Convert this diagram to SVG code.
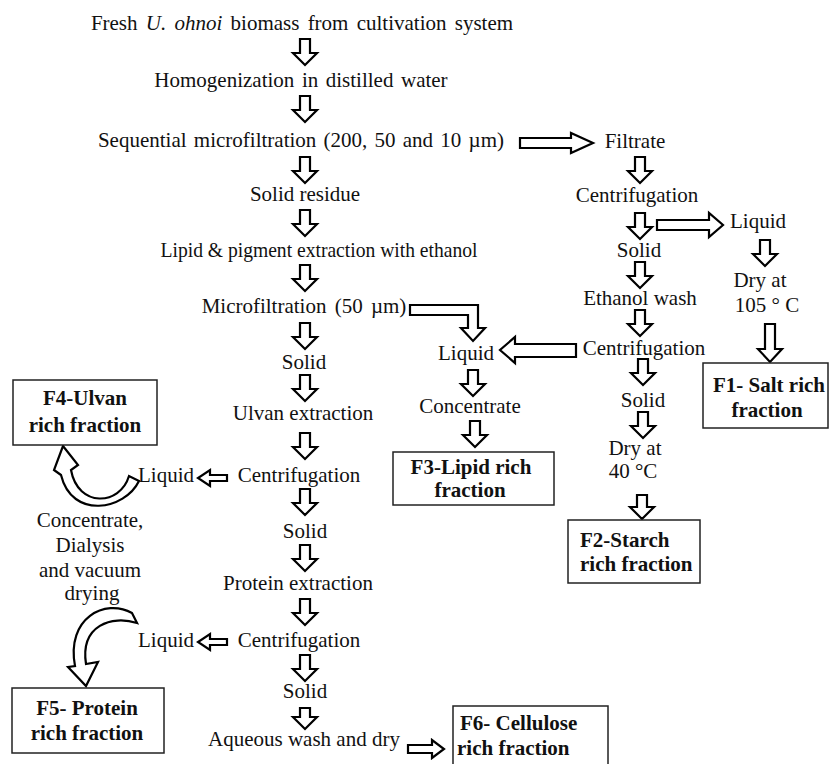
<svg xmlns="http://www.w3.org/2000/svg" width="830" height="764" viewBox="0 0 830 764">
<defs>
<style>
text{font-family:"Liberation Serif","Times New Roman",serif;font-size:21px;fill:#111;}
.m{text-anchor:middle;}
.b{font-weight:bold;}
.box{fill:#fff;stroke:#222;stroke-width:1.5;}
.ar{fill:#fff;stroke:#000;stroke-width:2.2;stroke-linejoin:miter;}
</style>
<path id="dn" d="M -5 0 H 5 V 14 H 12 L 0 26 L -12 14 H -5 Z"/>
</defs>
<rect width="830" height="764" fill="#fff"/>

<g id="connectors" class="ar">
<use href="#dn" x="305" y="39"/>
<use href="#dn" x="305" y="96"/>
<use href="#dn" x="305" y="157"/>
<use href="#dn" x="305" y="210"/>
<use href="#dn" x="305" y="265"/>
<use href="#dn" x="305" y="323"/>
<use href="#dn" x="305" y="375"/>
<use href="#dn" x="305" y="433"/>
<use href="#dn" x="305" y="489"/>
<use href="#dn" x="305" y="545"/>
<use href="#dn" x="305" y="599"/>
<use href="#dn" x="305" y="655"/>
<path d="M 300 708 H 310 V 717 H 317 L 305 729 L 293 717 H 300 Z"/>
<use href="#dn" x="640" y="157"/>
<use href="#dn" x="640" y="213"/>
<use href="#dn" x="640" y="262"/>
<use href="#dn" x="640" y="310"/>
<use href="#dn" x="643" y="359"/>
<use href="#dn" x="643" y="412"/>
<path d="M 637 495 H 647 V 507 H 654 L 642 519 L 630 507 H 637 Z"/>
<use href="#dn" x="765" y="240"/>
<path d="M 765 324 H 775 V 349 H 782 L 770 362 L 758 349 H 765 Z"/>
<use href="#dn" x="473" y="370"/>
<use href="#dn" x="475" y="421"/>
<path d="M 520 138 H 571 V 133 L 593 143 L 571 153 V 148 H 520 Z"/>
<path d="M 657 220 H 709 V 213 L 723 225 L 709 237 V 230 H 657 Z"/>
<path d="M 576 344 H 515 V 337 L 500 350 L 515 363 V 357 H 576 Z"/>
<path d="M 410 305 H 478 V 328 H 485 L 473 341 L 461 328 H 468 V 315 H 410 Z"/>
<path d="M 227 475 H 210 V 470 L 198 478 L 210 486 V 481 H 227 Z"/>
<path d="M 227 639 H 210 V 634 L 198 642 L 210 650 V 645 H 227 Z"/>
<path d="M 408 745 H 432 V 740 L 444 749 L 432 758 V 753 H 408 Z"/>
<path d="M 139 481 C 125 510, 72 520, 61 475 L 54 470 L 63 446 L 78 465 L 71 470 C 78 508, 120 506, 129 476 Z"/>
<path d="M 132 613 C 105 598, 66 618, 75 666 L 68 667 L 86 686 L 98 662 L 86 664 C 80 625, 112 615, 137 623 Z"/>
</g>

<g id="n-fresh"><text class="m" x="302" y="30" word-spacing="3">Fresh <tspan font-style="italic">U. ohnoi</tspan>  biomass from cultivation system</text></g>
<g id="n-homog"><text class="m" x="301" y="87" word-spacing="2.3">Homogenization in distilled water</text></g>
<g id="n-seq"><text class="m" x="301" y="147" word-spacing="2">Sequential microfiltration (200, 50 and 10 µm)</text></g>
<g id="n-solidres"><text class="m" x="305" y="201">Solid residue</text></g>
<g id="n-lipid"><text class="m" x="319" y="257" textLength="317" lengthAdjust="spacingAndGlyphs">Lipid &amp; pigment extraction with ethanol</text></g>
<g id="n-micro"><text class="m" x="304" y="313" word-spacing="3">Microfiltration (50 µm)</text></g>
<g id="n-solid1"><text class="m" x="304" y="369">Solid</text></g>
<g id="n-ulvan"><text class="m" x="303" y="420">Ulvan extraction</text></g>
<g id="n-centL1"><text class="m" x="299" y="482">Centrifugation</text></g>
<g id="n-liqL1"><text class="m" x="166" y="482">Liquid</text></g>
<g id="n-solid2"><text class="m" x="305" y="538">Solid</text></g>
<g id="n-protein"><text class="m" x="298" y="590">Protein extraction</text></g>
<g id="n-centL2"><text class="m" x="299" y="647">Centrifugation</text></g>
<g id="n-liqL2"><text class="m" x="166" y="647">Liquid</text></g>
<g id="n-solid3"><text class="m" x="305" y="698">Solid</text></g>
<g id="n-aqueous"><text class="m" x="304" y="746">Aqueous wash and dry</text></g>
<g id="n-conc-dial">
<text class="m" x="90" y="527">Concentrate,</text>
<text class="m" x="90" y="552">Dialysis</text>
<text class="m" x="90" y="577">and vacuum</text>
<text class="m" x="92" y="600">drying</text>
</g>
<g id="n-filtrate"><text class="m" x="635" y="148">Filtrate</text></g>
<g id="n-centR1"><text class="m" x="637" y="202">Centrifugation</text></g>
<g id="n-liqR1"><text class="m" x="758" y="228">Liquid</text></g>
<g id="n-solidR1"><text class="m" x="639" y="257">Solid</text></g>
<g id="n-ethwash"><text class="m" x="640" y="305">Ethanol wash</text></g>
<g id="n-centR2"><text class="m" x="644" y="355">Centrifugation</text></g>
<g id="n-solidR2"><text class="m" x="643" y="407">Solid</text></g>
<g id="n-dry40"><text class="m" x="635" y="455">Dry at</text><text class="m" x="633" y="478">40 °C</text></g>
<g id="n-dry105"><text class="m" x="760" y="287">Dry at</text><text class="m" x="767" y="312">105 ° C</text></g>
<g id="n-liqM"><text class="m" x="466" y="360">Liquid</text></g>
<g id="n-concM"><text class="m" x="470" y="413">Concentrate</text></g>

<g id="f1"><rect class="box" x="703" y="363" width="125" height="65"/><text class="m b" x="769" y="392">F1- Salt rich</text><text class="m b" x="767" y="417">fraction</text></g>
<g id="f2"><rect class="box" x="568" y="520" width="132" height="63"/><text class="b" x="580" y="547">F2-Starch</text><text class="b" x="580" y="571">rich fraction</text></g>
<g id="f3"><rect class="box" x="393" y="452" width="161" height="53"/><text class="m b" x="471" y="474">F3-Lipid rich</text><text class="m b" x="470" y="497">fraction</text></g>
<g id="f4"><rect class="box" x="13" y="380" width="144" height="65"/><text class="m b" x="85" y="405">F4-Ulvan</text><text class="m b" x="85" y="432">rich fraction</text></g>
<g id="f5"><rect class="box" x="12" y="688" width="152" height="65"/><text class="m b" x="87" y="715">F5- Protein</text><text class="m b" x="87" y="740">rich fraction</text></g>
<g id="f6"><rect class="box" x="453" y="706" width="155" height="66"/><text class="b" x="460" y="730">F6- Cellulose</text><text class="b" x="457" y="755">rich fraction</text></g>
</svg>
